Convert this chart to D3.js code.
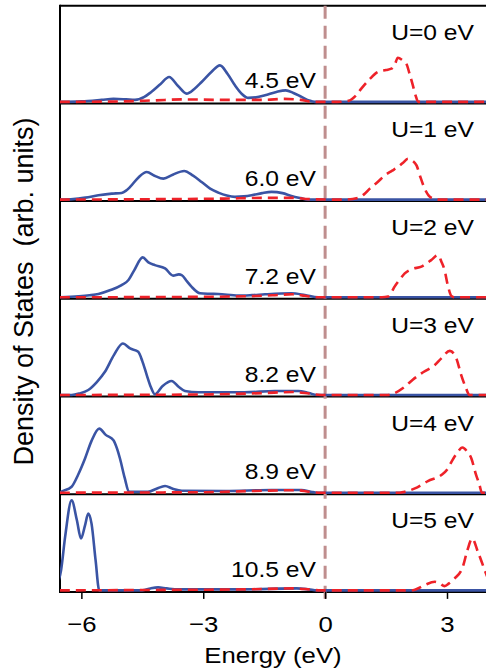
<!DOCTYPE html>
<html>
<head>
<meta charset="utf-8">
<script src="https://cdn.jsdelivr.net/npm/d3@7"></script>
<style>
  body { margin: 0; background: #fff; }
  text { font-family: "Liberation Sans", Arial, sans-serif; fill: #000; }
</style>
</head>
<body>
<div id="chart"></div>
<script>
// ---------------- data (energy in eV, DOS in arb. units) ----------------
const uValues = [0, 1, 2, 3, 4, 5];
const gapLabels = ["4.5 eV", "6.0 eV", "7.2 eV", "8.2 eV", "8.9 eV", "10.5 eV"];
const xTicks = [-6, -3, 0, 3];

// occupied states (solid blue)
const occU0 = [[-6.53,0],[-6.0,0.5],[-5.5,2],[-5.21,3],[-4.9,2.5],[-4.68,2],[-4.45,5],[-4.28,10],[-4.05,18],[-3.84,25],[-3.62,16],[-3.41,8.3],[-3.22,13],[-3.04,20],[-2.8,30],[-2.59,36.6],[-2.4,28],[-2.22,16.6],[-2.05,8],[-1.89,4],[-1.7,4.5],[-1.48,6.6],[-1.2,10],[-0.97,11.6],[-0.78,9],[-0.58,5],[-0.4,1.5],[-0.25,0],[3.96,0]];
const occU1 = [[-6.53,0],[-6.2,0.5],[-5.9,2],[-5.58,4.3],[-5.25,6],[-5.01,6.7],[-4.9,9],[-4.8,12.7],[-4.6,22],[-4.39,27.7],[-4.2,24],[-3.98,21],[-3.75,25],[-3.47,28.7],[-3.25,24],[-3.04,17.7],[-2.83,11],[-2.63,7],[-2.42,4],[-2.22,2.7],[-2.0,3.2],[-1.81,4.3],[-1.55,6.5],[-1.32,7.7],[-1.05,6.5],[-0.83,3.7],[-0.6,1.5],[-0.42,0],[3.96,0]];
const occU2 = [[-6.53,0],[-6.07,1],[-5.8,2],[-5.58,3.3],[-5.3,7],[-5.01,12.3],[-4.84,17.3],[-4.7,27],[-4.49,40],[-4.35,35],[-4.19,32.3],[-3.94,29],[-3.74,21.7],[-3.6,23],[-3.53,22.3],[-3.4,16],[-3.29,10.7],[-3.08,4],[-2.85,3.5],[-2.63,3.3],[-2.14,1.7],[-1.8,2.2],[-1.48,3],[-0.83,4],[-0.5,2.3],[-0.17,0],[3.96,0]];
const occU3 = [[-6.53,0],[-6.24,0],[-6.05,1.5],[-5.83,5],[-5.62,13],[-5.42,23.3],[-5.2,40],[-4.98,51.7],[-4.8,46.7],[-4.6,43.3],[-4.5,34],[-4.39,20],[-4.29,8],[-4.19,0.7],[-4.0,9],[-3.78,14],[-3.6,8],[-3.45,4],[-3.12,2.7],[-1.98,2.7],[-1.24,4],[-0.66,4],[-0.4,2],[-0.2,0],[3.96,0]];
const occU4 = [[-6.53,0],[-6.49,1],[-6.24,6],[-6.08,18],[-5.91,34.3],[-5.75,52],[-5.56,64.3],[-5.4,58],[-5.21,52.7],[-5.12,44],[-5.05,34.3],[-4.93,14.3],[-4.83,1],[-4.36,1],[-4.15,4],[-3.94,6.7],[-3.75,4],[-3.53,2],[-2.46,1.7],[-1.32,2.7],[-0.58,2.7],[-0.35,1],[-0.2,0],[3.96,0]];
const occU5 = [[-6.6,5],[-6.5,20.3],[-6.4,53.7],[-6.24,90.3],[-6.11,70.3],[-6.01,52],[-5.91,65.3],[-5.83,77],[-5.75,67],[-5.65,30.3],[-5.56,0],[-4.5,0],[-4.3,2],[-4.11,3],[-3.9,2],[-3.6,1],[-2.0,1],[-0.7,2],[-0.4,1],[-0.2,0],[3.96,0]];

// unoccupied states (dashed red)
const unoccU0 = [[-6.53,0],[-5.0,0.5],[-4.2,1.5],[-3.5,2.5],[-2.5,2],[-1.5,2],[-1.0,3],[-0.6,2],[-0.3,0],[0.3,0],[0.57,1],[0.75,6],[0.89,13.3],[1.1,23],[1.3,30],[1.5,32],[1.63,33.3],[1.72,38],[1.79,44.3],[1.9,42],[2.0,38.3],[2.08,28],[2.16,16.6],[2.23,6],[2.29,0],[3.96,0]];
const unoccU1 = [[-6.53,0],[-4.0,0.5],[-2.5,1],[-1.5,1.7],[-0.8,1.7],[-0.4,0.5],[0.2,0],[0.48,0],[0.81,1.7],[0.95,5],[1.1,11],[1.3,18],[1.47,24.3],[1.65,29],[1.79,32.7],[1.92,37],[2.04,41],[2.15,39],[2.25,34.3],[2.35,22],[2.45,11],[2.55,4],[2.66,1],[2.78,0],[3.96,0]];
const unoccU2 = [[-6.53,0],[-3.0,0.5],[-2.0,1],[-1.3,2],[-0.8,3],[-0.5,1.5],[-0.2,0],[1.4,0],[1.55,0.7],[1.63,5],[1.71,10.7],[1.84,18],[1.96,24],[2.15,28.5],[2.37,30.7],[2.5,34],[2.61,37.3],[2.78,42.3],[2.86,36],[2.94,27.3],[3.02,12],[3.11,1.3],[3.2,0],[3.96,0]];
const unoccU3 = [[-6.53,0],[-3.0,0.5],[-1.5,2],[-0.8,3],[-0.4,1.5],[-0.1,0],[1.5,0],[1.63,0.7],[1.96,8.3],[2.15,15],[2.37,21.7],[2.55,26],[2.7,30],[2.86,36.7],[3.07,44.3],[3.23,36.7],[3.35,20],[3.47,6.7],[3.55,0],[3.96,0]];
const unoccU4 = [[-6.53,0],[-3.0,0.5],[-1.5,2],[-0.7,2.5],[-0.4,1],[-0.1,0],[1.8,0],[1.88,0.3],[2.21,4.3],[2.53,11.7],[2.86,17.7],[3.0,23],[3.11,31],[3.25,40],[3.38,45.3],[3.5,41],[3.6,34.3],[3.7,20],[3.8,7.7],[3.86,0],[3.96,0]];
const unoccU5 = [[-6.53,0],[-4.0,0.5],[-2.0,1],[-0.8,2],[-0.4,1],[-0.1,0],[2.1,0],[2.21,0.7],[2.45,5.3],[2.7,8.7],[2.82,7],[2.94,4.3],[3.05,7],[3.19,12],[3.39,23.7],[3.5,40],[3.62,52],[3.76,38.7],[3.93,20.3],[4.05,8],[4.2,0]];

const occupied = [occU0, occU1, occU2, occU3, occU4, occU5];
const unoccupied = [unoccU0, unoccU1, unoccU2, unoccU3, unoccU4, unoccU5];

// ---------------- layout ----------------
const width = 486, height = 672;
const plotLeft = 60, plotRight = 486, plotTop = 5.7, panelH = 97.7;
const plotBottom = plotTop + panelH * uValues.length;
const stretch = 1.12; // the original figure is slightly wider than tall

const svg = d3.select("#chart").append("svg")
    .attr("width", width)
    .attr("height", height);

const x = d3.scaleLinear().domain([-6.526, 3.96]).range([plotLeft, plotRight]);

// clip the curves to the plotting area
svg.append("defs").append("clipPath")
    .attr("id", "plotclip")
    .append("rect")
    .attr("x", plotLeft)
    .attr("y", plotTop)
    .attr("width", plotRight - plotLeft)
    .attr("height", plotBottom - plotTop);

// frame: top line, left line and panel separators
svg.append("line")
    .attr("x1", plotLeft).attr("x2", plotRight)
    .attr("y1", plotTop).attr("y2", plotTop)
    .attr("stroke", "#000").attr("stroke-width", 2);
svg.append("line")
    .attr("x1", plotLeft).attr("x2", plotLeft)
    .attr("y1", plotTop - 1).attr("y2", plotBottom + 1)
    .attr("stroke", "#000").attr("stroke-width", 2);

uValues.forEach(function (u, i) {
    const pBottom = plotTop + panelH * (i + 1);
    svg.append("line")
        .attr("x1", plotLeft).attr("x2", plotRight)
        .attr("y1", pBottom).attr("y2", pBottom)
        .attr("stroke", "#000").attr("stroke-width", 2);
});

// Fermi level
svg.append("line")
    .attr("x1", x(0)).attr("x2", x(0))
    .attr("y1", plotTop).attr("y2", plotBottom + 7)
    .attr("stroke", "#bf8e8e")
    .attr("stroke-width", 3)
    .attr("stroke-dasharray", "13,7");

// panels
uValues.forEach(function (u, i) {
    const pBottom = plotTop + panelH * (i + 1);
    const y = d3.scaleLinear().domain([0, 98]).range([pBottom - 1.5, pBottom - 1.5 - panelH]);
    const line = d3.line()
        .x(d => x(d[0]))
        .y(d => y(d[1]))
        .curve(d3.curveMonotoneX);

    const g = svg.append("g").attr("clip-path", "url(#plotclip)");

    g.append("path")
        .datum(occupied[i])
        .attr("d", line)
        .attr("fill", "none")
        .attr("stroke", "#3a54a4")
        .attr("stroke-width", 2.6)
        .attr("stroke-linejoin", "round");

    g.append("path")
        .datum(unoccupied[i])
        .attr("d", line)
        .attr("fill", "none")
        .attr("stroke", "#ee2229")
        .attr("stroke-width", 2.6)
        .attr("stroke-dasharray", "10,6");

    svg.append("text")
        .attr("transform", `translate(474,${pBottom - panelH + 34}) scale(${stretch},1)`)
        .attr("text-anchor", "end")
        .style("font-size", "22px")
        .text("U=" + u + " eV");

    svg.append("text")
        .attr("transform", `translate(316,${pBottom - 15}) scale(${stretch},1)`)
        .attr("text-anchor", "end")
        .style("font-size", "22px")
        .text(gapLabels[i]);
});

// x axis
const xAxis = d3.axisBottom(x)
    .tickValues(xTicks)
    .tickSize(7)
    .tickSizeOuter(0)
    .tickPadding(17)
    .tickFormat(d3.format("d"));

const axisG = svg.append("g")
    .attr("transform", `translate(0,${plotBottom})`)
    .call(xAxis);
axisG.select(".domain").remove();
axisG.selectAll(".tick line").attr("stroke", "#000").attr("stroke-width", 1.5);
axisG.selectAll(".tick text")
    .attr("transform", `scale(${stretch},1)`)
    .style("font-size", "23px")
    .style("font-family", "'Liberation Sans', Arial, sans-serif")
    .attr("fill", "#000");

svg.append("text")
    .attr("transform", `translate(${(plotLeft + plotRight) / 2},663) scale(${stretch},1)`)
    .attr("text-anchor", "middle")
    .style("font-size", "23px")
    .text("Energy (eV)");

svg.append("text")
    .attr("transform", `translate(33,291.5) rotate(-90)`)
    .attr("text-anchor", "middle")
    .style("font-size", "27px")
    .style("white-space", "pre")
    .text("Density of States  (arb. units)");
</script>
</body>
</html>
